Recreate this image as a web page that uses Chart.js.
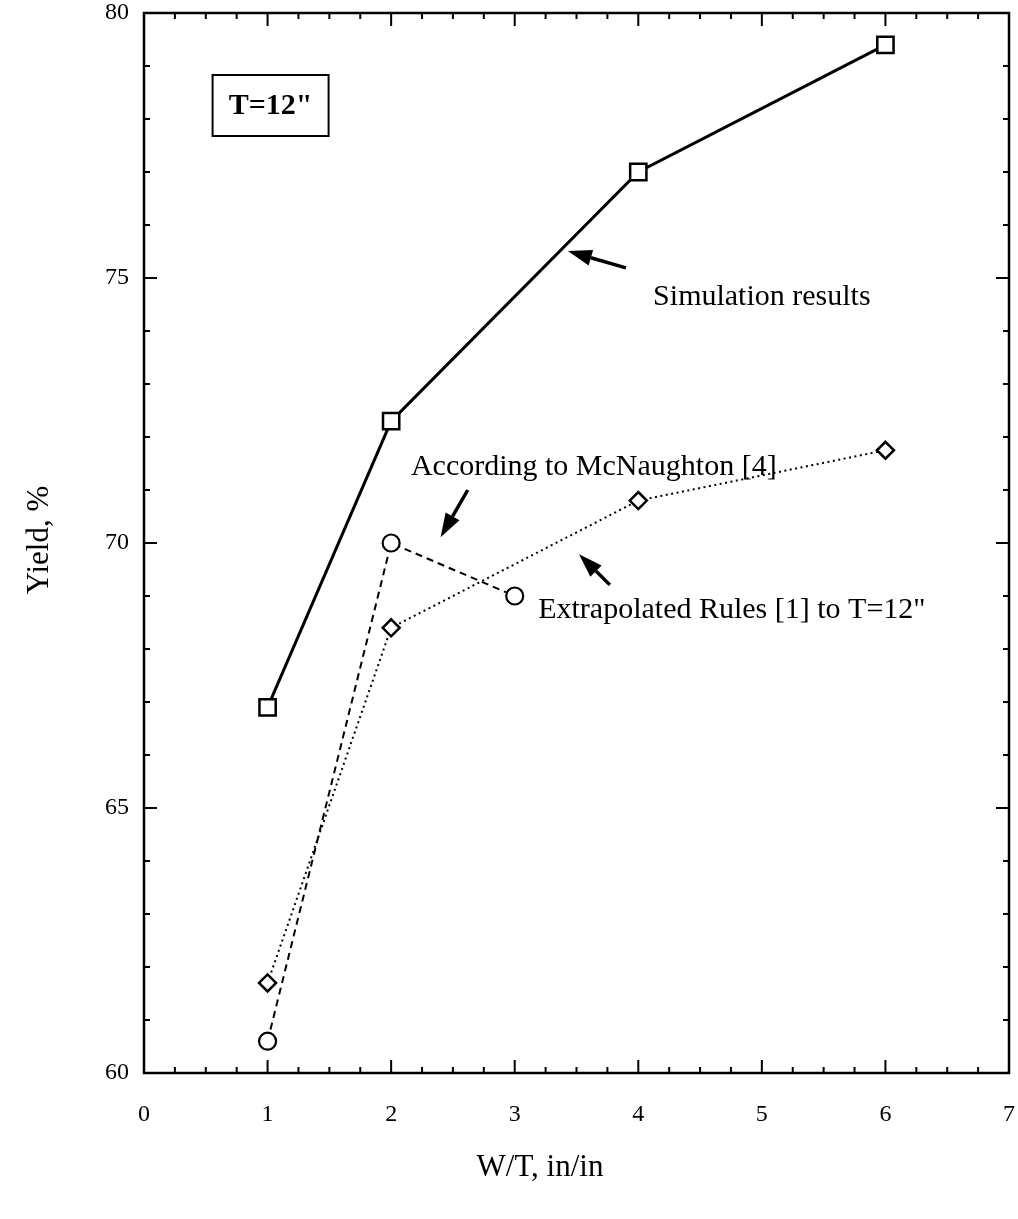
<!DOCTYPE html>
<html>
<head>
<meta charset="utf-8">
<title>Yield vs W/T</title>
<script src="https://cdn.jsdelivr.net/npm/chart.js@4.4.1/dist/chart.umd.min.js"></script>
<style>
  html, body { margin: 0; padding: 0; background: #fff; }
  canvas { display: block; }
</style>
</head>
<body>
<canvas id="grafico" width="1018" height="1219"></canvas>
<script>
// datos
const simX = [1, 2, 4, 6];
const simY = [66.9, 72.3, 77.0, 79.4];

const mcnX = [1, 2, 3];
const mcnY = [60.6, 70.0, 69.0];

const extX = [1, 2, 4, 6];
const extY = [61.7, 68.4, 70.8, 71.75];

const xTicks = [0, 1, 2, 3, 4, 5, 6, 7];
const yTicks = [60, 65, 70, 75, 80];

const FUENTE = "'Liberation Serif', 'Times New Roman', serif";

function puntos(xs, ys) {
  return xs.map((x, i) => ({ x: x, y: ys[i] }));
}

// marco, marcas hacia adentro y anotaciones
const marcoPlugin = {
  id: "marco",
  beforeDatasetsDraw(chart) {
    const { ctx, chartArea: a, scales } = chart;
    const sx = scales.x, sy = scales.y;
    ctx.save();
    ctx.strokeStyle = "#000";
    ctx.lineWidth = 2;
    for (let v = 0; v <= 7.0001; v += 0.25) {
      const px = sx.getPixelForValue(v);
      const largo = Math.abs(v - Math.round(v)) < 1e-6 ? 13 : 6;
      ctx.beginPath();
      ctx.moveTo(px, a.bottom); ctx.lineTo(px, a.bottom - largo);
      ctx.moveTo(px, a.top); ctx.lineTo(px, a.top + largo);
      ctx.stroke();
    }
    for (let v = 60; v <= 80; v += 1) {
      const py = sy.getPixelForValue(v);
      const largo = v % 5 === 0 ? 13 : 6;
      ctx.beginPath();
      ctx.moveTo(a.left, py); ctx.lineTo(a.left + largo, py);
      ctx.moveTo(a.right, py); ctx.lineTo(a.right - largo, py);
      ctx.stroke();
    }
    ctx.lineWidth = 2.5;
    ctx.strokeRect(a.left, a.top, a.right - a.left, a.bottom - a.top);
    ctx.restore();
  },
  afterDatasetsDraw(chart) {
    const { ctx, chartArea: a, scales } = chart;
    const sx = scales.x, sy = scales.y;
    const px = (v) => sx.getPixelForValue(v);
    const py = (v) => sy.getPixelForValue(v);
    ctx.save();
    ctx.fillStyle = "#000";
    ctx.strokeStyle = "#000";

    // recuadro T=12"
    const bx = px(0.555), by = py(78.83), bw = 116, bh = 61;
    ctx.lineWidth = 2;
    ctx.strokeRect(bx, by, bw, bh);
    ctx.font = "bold 30px " + FUENTE;
    ctx.textAlign = "center";
    ctx.textBaseline = "middle";
    ctx.fillText('T=12"', bx + bw / 2, by + bh / 2 + 1);

    // textos
    ctx.font = "30px " + FUENTE;
    ctx.textAlign = "left";
    ctx.fillText("Simulation results", px(4.12), py(74.64));
    ctx.fillText("According to McNaughton [4]", px(2.16), py(71.43));
    ctx.fillText('Extrapolated Rules [1] to T=12"', px(3.19), py(68.74));

    // flechas
    flecha(ctx, px(3.90), py(75.19), px(3.43), py(75.51));
    flecha(ctx, px(2.62), py(71.0), px(2.40), py(70.11));
    flecha(ctx, px(3.77), py(69.21), px(3.52), py(69.79));

    // titulos de ejes
    ctx.font = "31px " + FUENTE;
    ctx.textAlign = "center";
    ctx.fillText("W/T, in/in", 540, 1168);
    ctx.translate(40, 540);
    ctx.rotate(-Math.PI / 2);
    ctx.fillText("Yield, %", 0, 0);
    ctx.restore();
  }
};

function flecha(ctx, x1, y1, x2, y2) {
  const ang = Math.atan2(y2 - y1, x2 - x1);
  const largo = 24, ancho = 8;
  const bxp = x2 - Math.cos(ang) * largo, byp = y2 - Math.sin(ang) * largo;
  ctx.lineWidth = 3.5;
  ctx.beginPath();
  ctx.moveTo(x1, y1);
  ctx.lineTo(bxp, byp);
  ctx.stroke();
  ctx.beginPath();
  ctx.moveTo(x2, y2);
  ctx.lineTo(bxp + Math.sin(ang) * ancho, byp - Math.cos(ang) * ancho);
  ctx.lineTo(bxp - Math.sin(ang) * ancho, byp + Math.cos(ang) * ancho);
  ctx.closePath();
  ctx.fill();
}

function sinRelleno(s) {
  s.paddingLeft = 0;
  s.paddingRight = 0;
  s.paddingTop = 0;
  s.paddingBottom = 0;
}

new Chart(document.getElementById("grafico").getContext("2d"), {
  type: "line",
  data: {
    datasets: [
      {
        label: "Simulation results",
        data: puntos(simX, simY),
        borderColor: "#000",
        borderWidth: 3,
        pointStyle: "rect",
        pointRadius: 11.5,
        pointBorderWidth: 2.5,
        pointBackgroundColor: "#fff",
        pointBorderColor: "#000",
        tension: 0
      },
      {
        label: "According to McNaughton [4]",
        data: puntos(mcnX, mcnY),
        borderColor: "#000",
        borderWidth: 2,
        borderDash: [7, 5],
        pointStyle: "circle",
        pointRadius: 8.5,
        pointBorderWidth: 2.2,
        pointBackgroundColor: "#fff",
        pointBorderColor: "#000",
        tension: 0
      },
      {
        label: "Extrapolated Rules [1] to T=12\"",
        data: puntos(extX, extY),
        borderColor: "#000",
        borderWidth: 2,
        borderDash: [2, 3.5],
        pointStyle: "rectRot",
        pointRadius: 8.5,
        pointBorderWidth: 2.5,
        pointBackgroundColor: "#fff",
        pointBorderColor: "#000",
        tension: 0
      }
    ]
  },
  options: {
    responsive: false,
    animation: false,
    layout: { autoPadding: false, padding: { left: 0, right: 9, top: 13, bottom: 0 } },
    plugins: {
      legend: { display: false },
      tooltip: { enabled: false }
    },
    scales: {
      x: {
        type: "linear",
        min: 0,
        max: 7,
        afterFit: (s) => { s.height = 146; sinRelleno(s); },
        afterBuildTicks: (s) => { s.ticks = xTicks.map((v) => ({ value: v })); },
        grid: { display: false },
        border: { display: false },
        ticks: {
          color: "#000",
          font: { family: FUENTE, size: 24 },
          padding: 19,
          maxRotation: 0
        }
      },
      y: {
        type: "linear",
        min: 60,
        max: 80,
        afterFit: (s) => { s.width = 144; sinRelleno(s); },
        afterBuildTicks: (s) => { s.ticks = yTicks.map((v) => ({ value: v })); },
        grid: { display: false },
        border: { display: false },
        ticks: {
          color: "#000",
          font: { family: FUENTE, size: 24 },
          padding: 7
        }
      }
    }
  },
  plugins: [marcoPlugin]
});
</script>
</body>
</html>
